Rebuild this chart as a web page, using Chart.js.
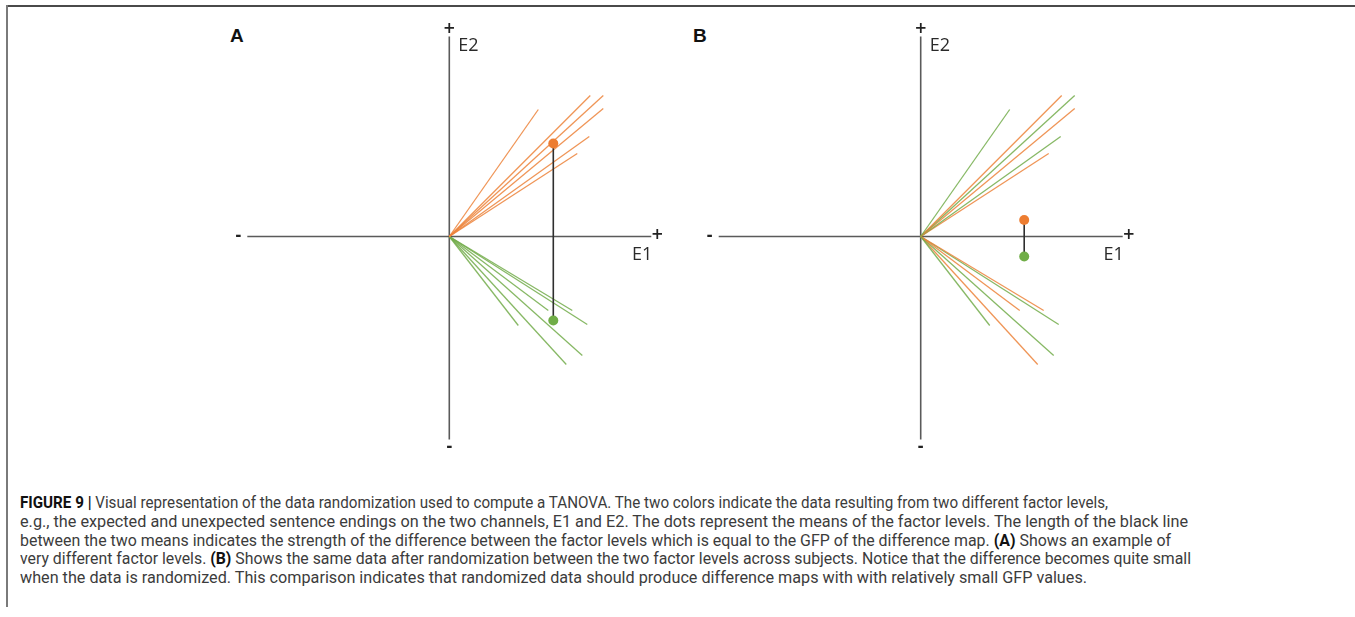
<!DOCTYPE html>
<html>
<head>
<meta charset="utf-8">
<script src="https://cdn.jsdelivr.net/npm/chart.js@4.4.1/dist/chart.umd.min.js"></script>
<style>
  html, body { margin:0; padding:0; background:#fff; }
  body { width:1355px; height:617px; position:relative; overflow:hidden; }
  .frameTop { position:absolute; left:7px; top:5px; width:1348px; height:2px; background:#4a4a4a; }
  .frameLeft { position:absolute; left:6px; top:5px; width:2px; height:602px; background:#7a7a7a; }
  canvas { position:absolute; }
  .panel { position:absolute; font-family:"Liberation Sans", Arial, sans-serif; font-weight:bold; font-size:19px; line-height:19px; color:#111; }
  .cap { position:absolute; left:20px; white-space:nowrap; font-family:Roboto, "Liberation Sans", sans-serif; font-size:15.8px; line-height:18.7px; color:#3c3c3c; transform-origin:0 0; }
  .cap b { color:#111; font-weight:700; }
</style>
</head>
<body>
<div class="frameTop"></div>
<div class="frameLeft"></div>
<div class="panel" style="left:230px; top:25.5px;">A</div>
<div class="panel" style="left:693px; top:25.5px;">B</div>
<canvas id="chartA" width="480" height="440" style="left:200px; top:20px;"></canvas>
<canvas id="chartB" width="470" height="440" style="left:680px; top:20px;"></canvas>

<div class="cap" style="top:494.2px;" data-right="1108"><b>FIGURE 9 |</b> Visual representation of the data randomization used to compute a TANOVA. The two colors indicate the data resulting from two different factor levels,</div>
<div class="cap" style="top:512.9px;" data-right="1188">e.g., the expected and unexpected sentence endings on the two channels, E1 and E2. The dots represent the means of the factor levels. The length of the black line</div>
<div class="cap" style="top:531.6px;" data-right="1171">between the two means indicates the strength of the difference between the factor levels which is equal to the GFP of the difference map. <b>(A)</b> Shows an example of</div>
<div class="cap" style="top:550.3px;" data-right="1191">very different factor levels. <b>(B)</b> Shows the same data after randomization between the two factor levels across subjects. Notice that the difference becomes quite small</div>
<div class="cap" style="top:569.0px;" data-right="1087">when the data is randomized. This comparison indicates that randomized data should produce difference maps with with relatively small GFP values.</div>

<script>
// ---- data (arbitrary units, origin at the crossing of E1 and E2) ----
const axisMin = { x: -202, y: -203 };
const axisMax = { x: 202, y: 200 };

// endpoints of the subject lines in the upper-right quadrant
const upperEndX = [89, 141, 154, 154, 140, 128];
const upperEndY = [127, 141, 141, 128, 100, 83];
// endpoints of the subject lines in the lower-right quadrant
const lowerEndX = [69, 99, 123, 138, 133, 117];
const lowerEndY = [-89, -74, -74, -88, -119, -128];

// factor level of each line, panel A (original) and panel B (randomized)
const panelAUpperLevel = ['orange', 'orange', 'orange', 'orange', 'orange', 'orange'];
const panelALowerLevel = ['green', 'green', 'green', 'green', 'green', 'green'];
const panelBUpperLevel = ['green', 'orange', 'green', 'orange', 'green', 'orange'];
const panelBLowerLevel = ['green', 'orange', 'orange', 'green', 'green', 'orange'];

// means of the factor levels
const panelAOrangeMean = [104, 93];
const panelAGreenMean = [104, -84];
const panelBOrangeMean = [103.5, 16.5];
const panelBGreenMean = [103.5, -20];

const axisTexts = { xPos: '+', xNeg: '-', yPos: '+', yNeg: '-', xName: 'E1', yName: 'E2' };

// ---- styles ----
const LINE_COLORS = { orange: 'rgba(236,130,58,0.85)', green: 'rgba(114,172,74,0.85)' };
const DOT_COLORS = { orange: '#ED7D31', green: '#70AD47' };
const AXIS_COLOR = '#5a5a5a';

const axisLabelPlugin = {
  id: 'axisLabels',
  afterDatasetsDraw(chart) {
    const { ctx, scales: { x, y } } = chart;
    const x0 = x.getPixelForValue(0), y0 = y.getPixelForValue(0);
    const xl = x.getPixelForValue(axisMin.x), xr = x.getPixelForValue(axisMax.x);
    const yt = y.getPixelForValue(axisMax.y), yb = y.getPixelForValue(axisMin.y);
    ctx.save();
    ctx.fillStyle = '#222';
    ctx.textAlign = 'center';
    ctx.textBaseline = 'middle';
    ctx.font = 'bold 15px "DejaVu Sans"';
    ctx.fillText(axisTexts.xPos, xr + 6, y0 - 1);
    ctx.fillText(axisTexts.yPos, x0, yt - 7);
    ctx.fillText(axisTexts.xNeg, xl - 9, y0);
    ctx.fillText(axisTexts.yNeg, x0, yb + 8);
    ctx.font = '18px "Open Sans"';
    ctx.fillStyle = '#2a2a2a';
    ctx.textAlign = 'right';
    ctx.fillText(axisTexts.xName, xr + 1, y0 + 18);
    ctx.textAlign = 'left';
    ctx.fillText(axisTexts.yName, x0 + 9, yt + 9);
    ctx.restore();
  }
};

function makePanel(id, upperLevel, lowerLevel, orangeMean, greenMean, pad) {
  const datasets = [];
  datasets.push({ data: [{ x: orangeMean[0], y: orangeMean[1] }], pointRadius: 5, pointBackgroundColor: DOT_COLORS.orange, pointBorderWidth: 0, showLine: false, order: 0 });
  datasets.push({ data: [{ x: greenMean[0], y: greenMean[1] }], pointRadius: 5, pointBackgroundColor: DOT_COLORS.green, pointBorderWidth: 0, showLine: false, order: 0 });
  datasets.push({ data: [{ x: orangeMean[0], y: orangeMean[1] }, { x: greenMean[0], y: greenMean[1] }], showLine: true, borderColor: '#2f2f2f', borderWidth: 1.6, pointRadius: 0, order: 1 });
  for (let i = 0; i < upperEndX.length; i++) {
    datasets.push({ data: [{ x: 0, y: 0 }, { x: upperEndX[i], y: upperEndY[i] }], showLine: true, borderColor: LINE_COLORS[upperLevel[i]], borderWidth: 1.3, pointRadius: 0, order: 2 });
  }
  for (let i = 0; i < lowerEndX.length; i++) {
    datasets.push({ data: [{ x: 0, y: 0 }, { x: lowerEndX[i], y: lowerEndY[i] }], showLine: true, borderColor: LINE_COLORS[lowerLevel[i]], borderWidth: 1.3, pointRadius: 0, order: 2 });
  }
  datasets.push({ data: [{ x: axisMin.x, y: 0 }, { x: axisMax.x, y: 0 }], showLine: true, borderColor: AXIS_COLOR, borderWidth: 1.6, pointRadius: 0, order: 3 });
  datasets.push({ data: [{ x: 0, y: axisMin.y }, { x: 0, y: axisMax.y }], showLine: true, borderColor: AXIS_COLOR, borderWidth: 1.6, pointRadius: 0, order: 3 });
  datasets.forEach(d => { d.clip = false; d.pointHoverRadius = 0; });

  new Chart(document.getElementById(id), {
    type: 'scatter',
    data: { datasets },
    options: {
      responsive: false,
      animation: false,
      events: [],
      layout: { padding: pad },
      plugins: { legend: { display: false }, tooltip: { enabled: false } },
      scales: {
        x: { type: 'linear', min: axisMin.x, max: axisMax.x, display: false },
        y: { type: 'linear', min: axisMin.y, max: axisMax.y, display: false }
      }
    },
    plugins: [axisLabelPlugin]
  });
}

makePanel('chartA', panelAUpperLevel, panelALowerLevel, panelAOrangeMean, panelAGreenMean,
  { left: 47.3, right: 28.7, top: 16.5, bottom: 20.5 });
makePanel('chartB', panelBUpperLevel, panelBLowerLevel, panelBOrangeMean, panelBGreenMean,
  { left: 38.7, right: 27.3, top: 16.5, bottom: 20.5 });

// fit each caption line to the width it has in the printed figure
function fitCaption() {
  document.querySelectorAll('.cap').forEach(el => {
    el.style.transform = 'none';
    const w = el.getBoundingClientRect().width;
    const target = parseFloat(el.dataset.right) - 20;
    el.style.transform = 'scaleX(' + (target / w) + ')';
  });
}
fitCaption();
if (document.fonts && document.fonts.ready) document.fonts.ready.then(fitCaption);
</script>
</body>
</html>
